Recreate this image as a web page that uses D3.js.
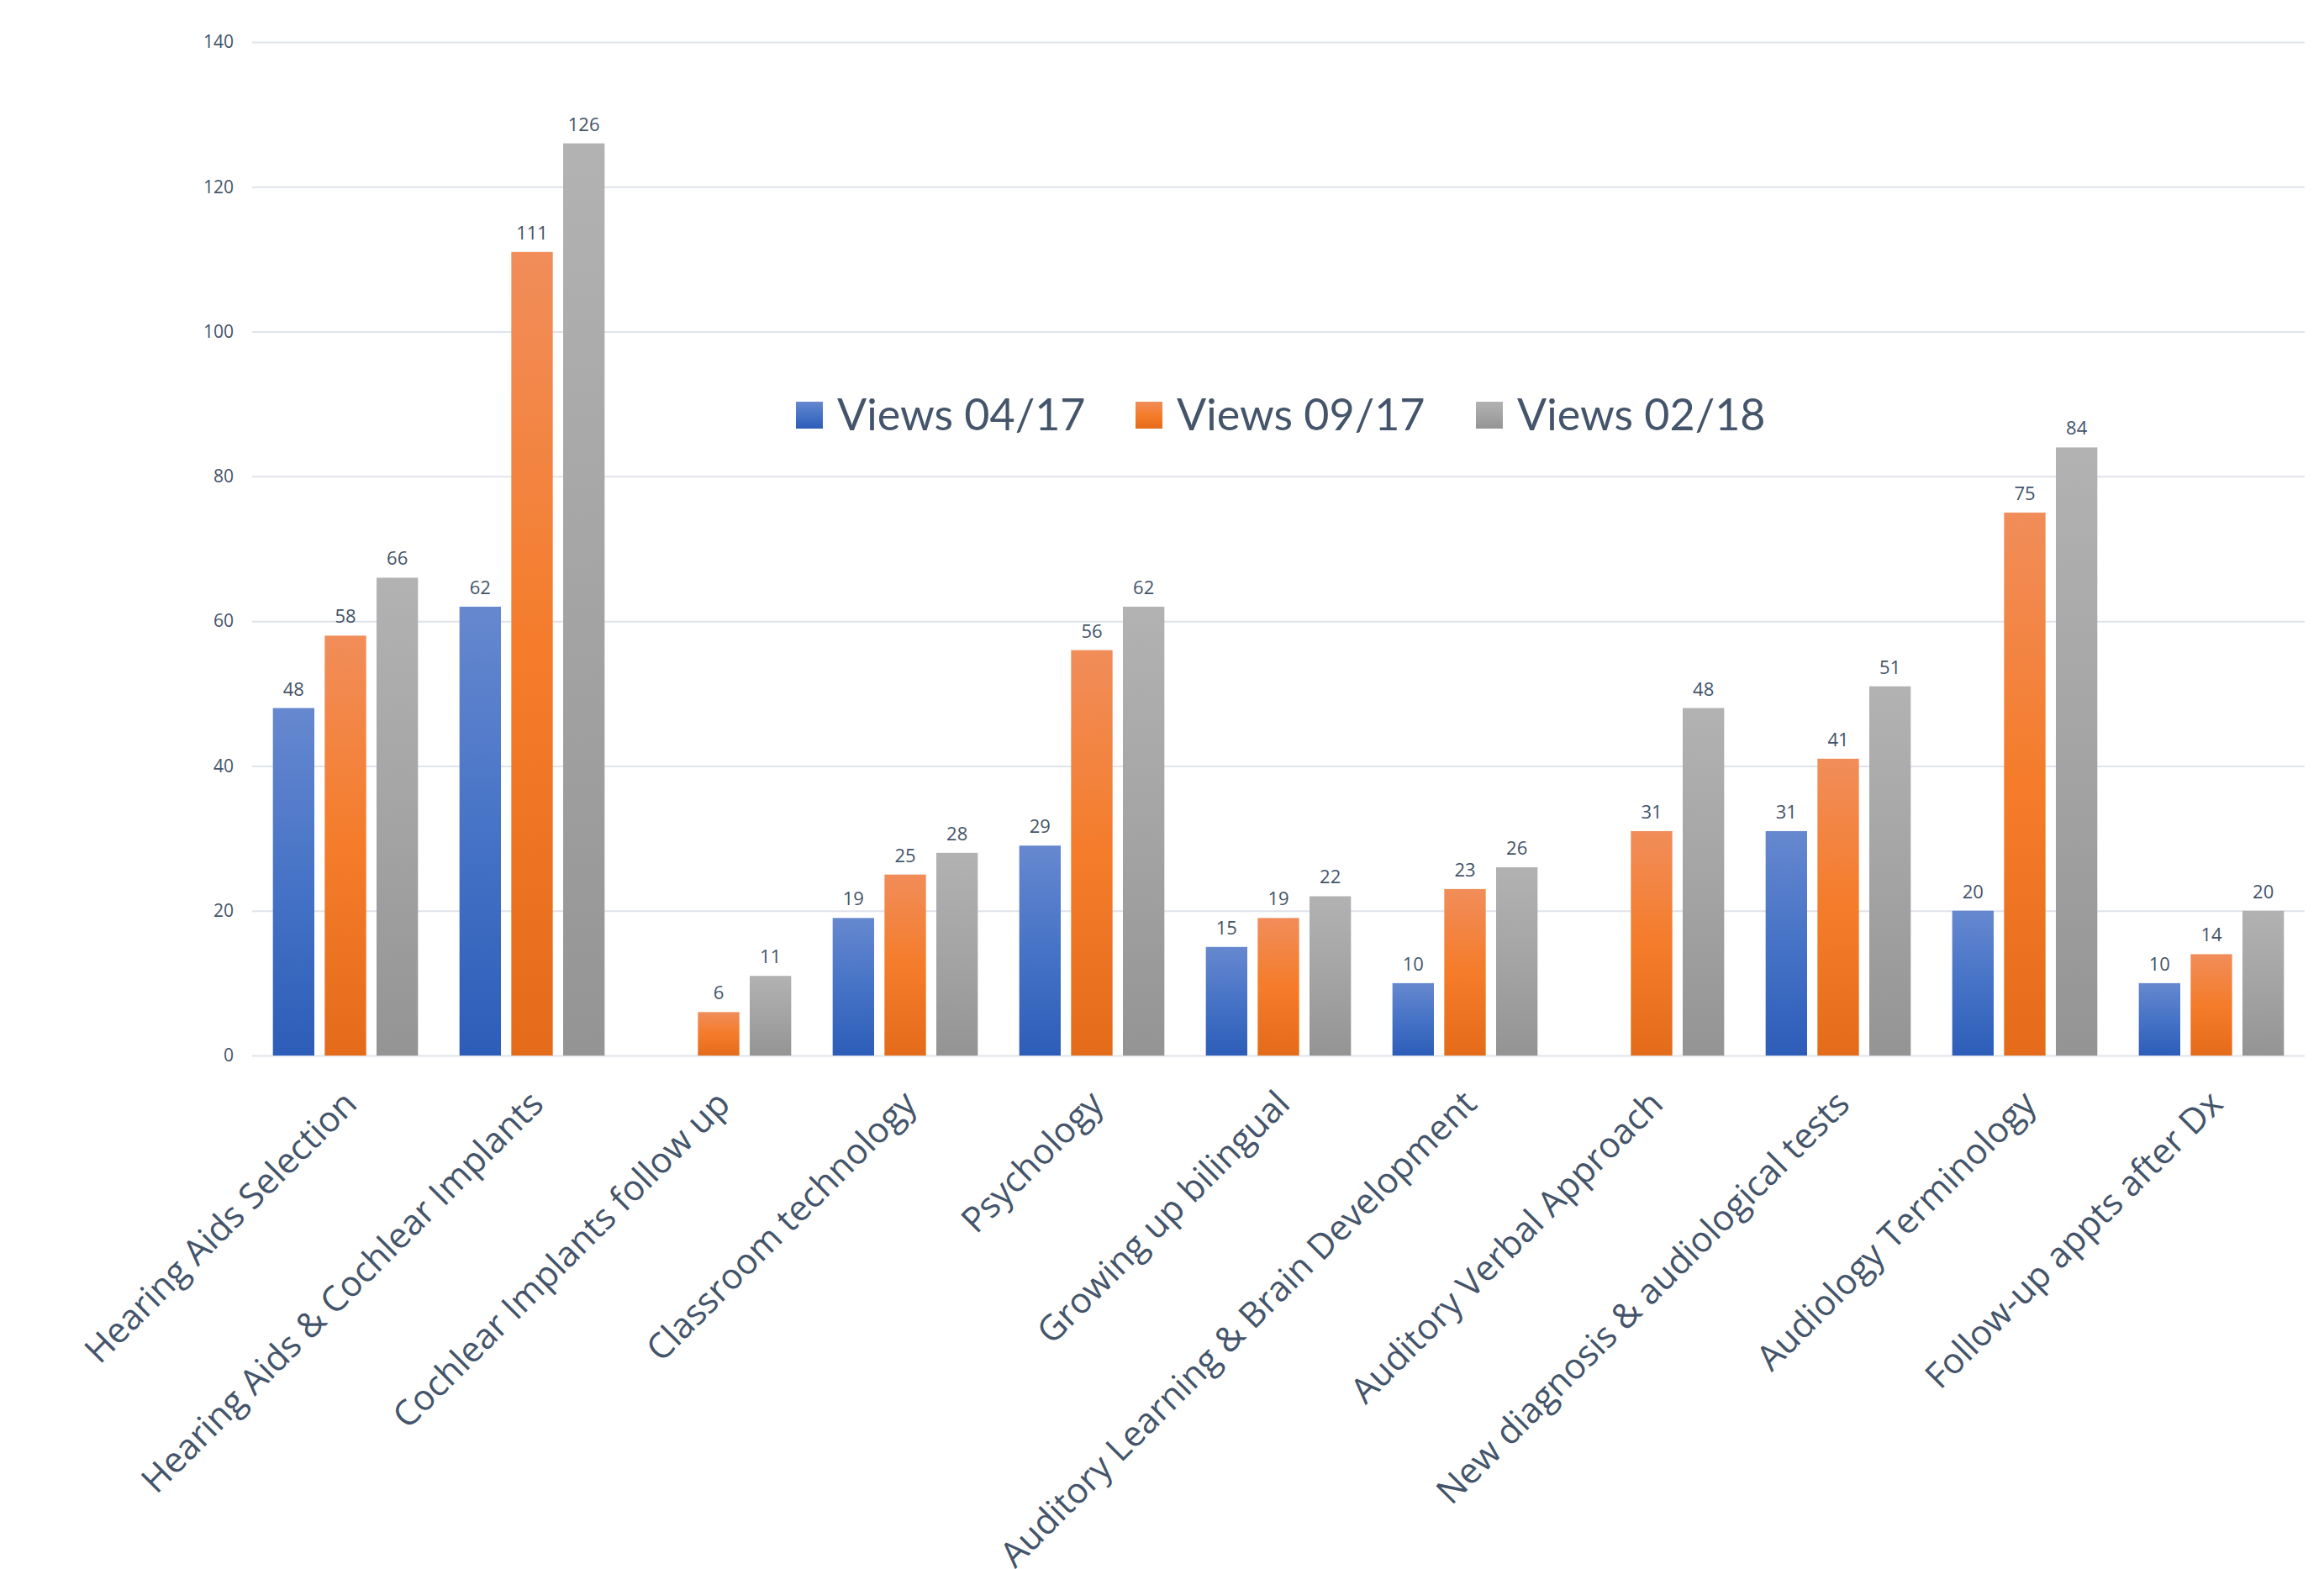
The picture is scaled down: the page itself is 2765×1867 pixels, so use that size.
<!DOCTYPE html>
<html>
<head>
<meta charset="utf-8">
<script src="https://cdn.jsdelivr.net/npm/d3@7"></script>
<style>
body{margin:0;background:#fff;}
</style>
</head>
<body>
<div class="canvas"></div>
<script>
//chart data
var categories = ['Hearing Aids Selection','Hearing Aids & Cochlear Implants','Cochlear Implants follow up',
    'Classroom technology','Psychology','Growing up bilingual','Auditory Learning & Brain Development',
    'Auditory Verbal Approach','New diagnosis & audiological tests','Audiology Terminology','Follow-up appts after Dx'];
var seriesNames = ['Views 04/17','Views 09/17','Views 02/18'];
var views0417 = [48,62,null,19,29,15,10,null,31,20,10];
var views0917 = [58,111,6,25,56,19,23,31,41,75,14];
var views0218 = [66,126,11,28,62,22,26,48,51,84,20];
var yTicks = [0,20,40,60,80,100,120,140];

var seriesValues = [views0417,views0917,views0218];

//drawing area
var W = 2765, H = 1867;
var margin = {t:50,r:23,b:611,l:300};
var width = W-margin.l-margin.r,
    height = H-margin.t-margin.b;

var svg = d3.select('.canvas')
    .append('svg')
    .attr('width',W)
    .attr('height',H);

//gradients for each series (light on top, darker at the bottom)
var grads = [
    ['#6688cf','#4673c6','#2d5db8'],
    ['#f18d5a','#f47c2a','#e36b19'],
    ['#b2b2b2','#a4a4a4','#949494']
];
var defs = svg.append('defs');
grads.forEach(function(g,i){
    var lg = defs.append('linearGradient')
        .attr('id','grad'+i)
        .attr('x1',0).attr('y1',0).attr('x2',0).attr('y2',1);
    lg.append('stop').attr('offset','0%').attr('stop-color',g[0]);
    lg.append('stop').attr('offset','50%').attr('stop-color',g[1]);
    lg.append('stop').attr('offset','100%').attr('stop-color',g[2]);
});

var plot = svg.append('g')
    .attr('class','plot')
    .attr('transform','translate('+margin.l+','+margin.t+')');

var x = d3.scaleBand()
    .domain(categories)
    .range([0,width])
    .paddingInner(0)
    .paddingOuter(0);

var bw = x.bandwidth()/4.5,  //bar width, 25% gap between bars, 100% gap between groups
    gap = bw*0.25;

var y = d3.scaleLinear()
    .domain([0,140])
    .range([height,0]);

var textColor = '#44546a';

//gridlines + y labels
var yAxis = d3.axisLeft(y)
    .tickValues(yTicks)
    .tickSize(-width)
    .tickPadding(22);
var gy = plot.append('g').call(yAxis);
gy.select('.domain').remove();
gy.selectAll('.tick line')
    .attr('stroke','#dfe3ea')
    .attr('stroke-width',2);
gy.selectAll('.tick text')
    .attr('fill',textColor)
    .style('font-family','Open Sans')
    .style('font-size','21px');

//bars
seriesValues.forEach(function(vals,s){
    var offset = x.bandwidth()/2 - (1.5*bw+gap) + s*(bw+gap);
    categories.forEach(function(c,i){
        var v = vals[i];
        if(v==null) return;
        plot.append('rect')
            .attr('x',x(c)+offset)
            .attr('y',y(v))
            .attr('width',bw)
            .attr('height',height-y(v))
            .style('fill','url(#grad'+s+')');
        plot.append('text')
            .attr('x',x(c)+offset+bw/2)
            .attr('y',y(v)-15)
            .attr('text-anchor','middle')
            .attr('fill',textColor)
            .style('font-family','Open Sans')
            .style('font-size','22px')
            .text(v);
    });
});

//category labels, rotated
var xAxis = d3.axisBottom(x).tickSize(0).tickPadding(0);
var gx = plot.append('g')
    .attr('transform','translate(0,'+height+')')
    .call(xAxis);
gx.select('.domain').remove();
gx.selectAll('.tick text')
    .attr('fill',textColor)
    .style('font-family','Open Sans')
    .style('font-size','42px')
    .attr('text-anchor','end')
    .attr('dy',0)
    .attr('transform','translate(16,60) rotate(-45)');

//legend
var legendX = [947,1351,1756];
var legend = svg.append('g');
seriesNames.forEach(function(n,i){
    legend.append('rect')
        .attr('x',legendX[i])
        .attr('y',478)
        .attr('width',32)
        .attr('height',32)
        .style('fill','url(#grad'+i+')');
    legend.append('text')
        .attr('x',legendX[i]+49)
        .attr('y',512)
        .attr('fill',textColor)
        .style('font-family','Lato')
        .style('font-size','52px')
        .text(n);
});
</script>
</body>
</html>
